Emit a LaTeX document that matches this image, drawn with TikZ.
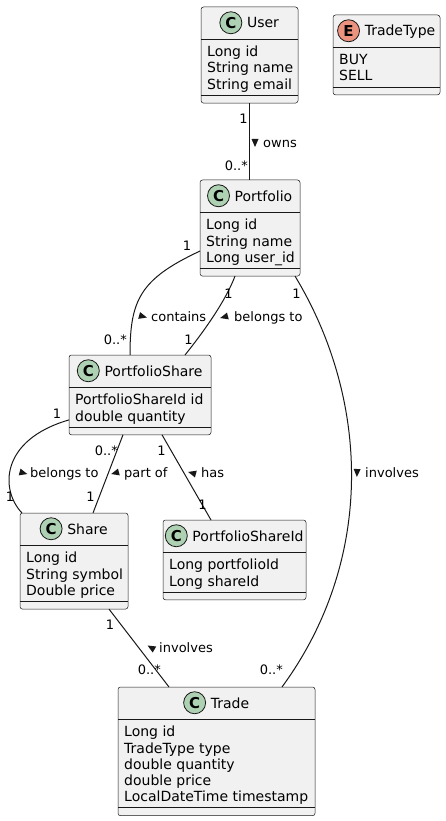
\documentclass[tikz,border=0pt]{standalone}
\usepackage{fontspec}
\setmainfont{DejaVu Sans}
\definecolor{cline}{HTML}{181818}
\definecolor{cfill}{HTML}{F1F1F1}
\definecolor{cgreen}{HTML}{ADD1B2}
\definecolor{cred}{HTML}{EB937F}
\tikzset{
  cls/.style={draw=cline, fill=cfill, line width=0.5pt, rounded corners=2.5pt, inner sep=0pt, outer sep=0pt},
  sepline/.style={draw=cline, line width=0.5pt},
  link/.style={draw=cline, line width=1pt},
  ctitle/.style={inner sep=0pt, text height=10.5pt, text depth=0pt, font=\fontsize{14}{16.3}\selectfont},
  cbadge/.style={circle, draw=cline, line width=0.8pt, minimum size=22pt, inner sep=0pt, font=\bfseries\fontsize{15}{15}\selectfont},
  cattr/.style={inner sep=0pt, align=left, anchor=north west, font=\fontsize{14}{16.3}\selectfont},
  lbl/.style={inner sep=0pt, text height=9.5pt, text depth=0pt, font=\fontsize{13}{15}\selectfont},
}
\newcommand\classbox[9]{%
  \pgfmathsetmacro\bh{63.5+(#5-1)*16.3}%
  \node[cls, minimum width=#4pt, minimum height=\bh pt, anchor=north west] (#1) at (#2,#3) {};
  \draw[sepline] ([yshift=-32pt]#1.north west) -- ([yshift=-32pt]#1.north east);
  \draw[sepline] ([yshift=8pt]#1.south west) -- ([yshift=8pt]#1.south east);
  \node[ctitle, anchor=base] (#1-t) at ([xshift=13.5pt, yshift=-21pt]#1.north) {#8};
  \node[cbadge, fill=#6] (#1-c) at ([xshift=-16pt]#1-t.west) {#7};
  \node[cattr] (#1-a) at ([xshift=6pt, yshift=-38.5pt]#1.north west) {\rule{0pt}{11pt}#9};
}
\newcommand\dirtri[3]{%
  \fill[cline, shift={(#1,#2)}, rotate=#3] (4pt,0pt) -- (-4pt,3.5pt) -- (-4pt,-3.5pt) -- cycle;
}
\begin{document}
\begin{tikzpicture}[x=1pt, y=-1pt]
\useasboundingbox (0,0) rectangle (446,821);

% classes
\classbox{user}{201}{7}{97}{3}{cgreen}{C}{User}{Long id\\String name\\String email}
\classbox{ttype}{333}{15}{107}{2}{cred}{E}{TradeType}{BUY\\SELL}
\classbox{portfolio}{200}{180}{100}{3}{cgreen}{C}{Portfolio}{Long id\\String name\\Long user\_id}
\classbox{ps}{69}{355}{142}{2}{cgreen}{C}{PortfolioShare}{PortfolioShareId id\\double quantity}
\classbox{share}{20}{513}{108}{3}{cgreen}{C}{Share}{Long id\\String symbol\\Double price}
\classbox{psid}{163}{520}{143}{2}{cgreen}{C}{PortfolioShareId}{Long portfolioId\\Long shareId}
\classbox{trade}{118}{687}{197}{5}{cgreen}{C}{Trade}{Long id\\TradeType type\\double quantity\\double price\\LocalDateTime timestamp}

% connectors
\draw[link] (user.south) -- (user.south |- portfolio.north);
\draw[link] ([yshift=-23pt]portfolio.west) .. controls +(-60,28) and +(0,-55) .. ([xshift=61pt]ps.north west);
\draw[link] ([xshift=35pt]portfolio.south west) .. controls +(-9,24) and +(20,-25) .. ([xshift=116pt]ps.north west);
\draw[link] ([xshift=95pt]portfolio.south west) .. controls +(75,124) and +(93,-127) .. ([xshift=164pt]trade.north west);
\draw[link] ([yshift=-25pt]ps.west) .. controls +(-69,20) and +(-22,-23) .. ([xshift=2pt]share.north west);
\draw[link] ([xshift=54pt]ps.south west) -- ([xshift=73pt]share.north west);
\draw[link] ([xshift=93pt]ps.south west) -- ([xshift=48pt]psid.north west);
\draw[link] ([xshift=89pt]share.south west) -- ([xshift=51pt]trade.north west);

% multiplicities
\node[lbl] (m1) at (243.5,118.5) {1};
\node[lbl, anchor=east] (m2) at (248,165.5) {0..*};
\node[lbl] (m3) at (187,246) {1};
\node[lbl, anchor=east] (m4) at (127,340) {0..*};
\node[lbl] (m5) at (228.5,293.5) {1};
\node[lbl] (m6) at (188.5,340) {1};
\node[lbl] (m7) at (296.5,293.5) {1};
\node[lbl, anchor=east] (m8) at (283,670) {0..*};
\node[lbl] (m9) at (57,413.5) {1};
\node[lbl] (m10) at (10,497) {1};
\node[lbl, anchor=east] (m11) at (118,451) {0..*};
\node[lbl] (m12) at (90.5,497) {1};
\node[lbl] (m13) at (161.5,451) {1};
\node[lbl] (m14) at (202.5,505) {1};
\node[lbl] (m15) at (110,624.5) {1};
\node[lbl, anchor=east] (m16) at (161,670) {0..*};

% association labels
\dirtri{255}{143}{-90}
\node[lbl, anchor=west] (e1) at (263,143) {owns};
\dirtri{143}{316.5}{-15}
\node[lbl, anchor=west] (e2) at (151,316.5) {contains};
\dirtri{224}{317}{195}
\node[lbl, anchor=west] (e3) at (234,317) {belongs to};
\dirtri{357}{473}{-92}
\node[lbl, anchor=west] (e4) at (365,473) {involves};
\dirtri{23.5}{473}{-15}
\node[lbl, anchor=west] (e5) at (30,473) {belongs to};
\dirtri{115}{473}{195}
\node[lbl, anchor=west] (e6) at (124,473) {part of};
\dirtri{192}{473}{165}
\node[lbl, anchor=west] (e7) at (201,473) {has};
\dirtri{151}{647.5}{150}
\node[lbl, anchor=west] (e8) at (159,647.5) {involves};
\end{tikzpicture}
\end{document}
